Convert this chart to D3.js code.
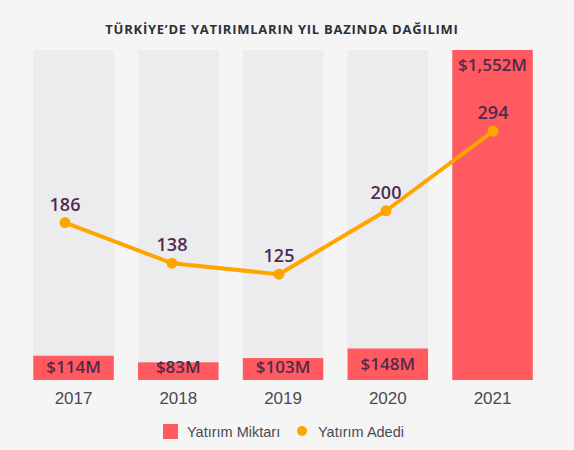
<!DOCTYPE html>
<html>
<head>
<meta charset="utf-8">
<script src="https://cdn.jsdelivr.net/npm/d3@7"></script>
<style>
  body { margin: 0; background: #f5f5f5; }
  svg { display: block; }
</style>
</head>
<body>
<svg id="chart"></svg>
<script>
// Data
const years = ["2017", "2018", "2019", "2020", "2021"];
const amounts = [114, 83, 103, 148, 1552];        // Yatırım Miktarı ($M)
const counts = [186, 138, 125, 200, 294];          // Yatırım Adedi
const amountLabels = ["$114M", "$83M", "$103M", "$148M", "$1,552M"];

const width = 574, height = 450;
const plotTop = 50, plotBottom = 380;

const svg = d3.select("#chart")
    .attr("width", width)
    .attr("height", height);

svg.append("rect")
    .attr("width", width)
    .attr("height", height)
    .attr("fill", "#f5f5f5");

// Title
svg.append("text")
    .attr("x", 282)
    .attr("y", 34)
    .attr("text-anchor", "middle")
    .style("font-family", "'Open Sans', sans-serif")
    .style("font-weight", "700")
    .style("font-size", "13px")
    .style("letter-spacing", "0.75px")
    .style("fill", "#2d2f3a")
    .text("TÜRKİYE’DE YATIRIMLARIN YIL BAZINDA DAĞILIMI");

// Scales
const xBar = d3.scaleBand()
    .domain(years)
    .range([33.3, 532.8])
    .paddingInner(0.2315)
    .paddingOuter(0);

const yBar = d3.scaleLinear()
    .domain([0, d3.max(amounts)])
    .range([plotBottom, plotTop]);

const xLine = d3.scalePoint()
    .domain(years)
    .range([65, 493]);

const yLine = d3.scaleLinear()
    .domain([0, 390])
    .range([plotBottom, plotTop]);

// Background bars
svg.selectAll(".bg-bar")
    .data(years)
    .enter()
    .append("rect")
    .attr("class", "bg-bar")
    .attr("x", d => xBar(d))
    .attr("y", plotTop)
    .attr("width", xBar.bandwidth())
    .attr("height", plotBottom - plotTop)
    .attr("fill", "#ececee");

// Amount bars
svg.selectAll(".amount-bar")
    .data(amounts)
    .enter()
    .append("rect")
    .attr("class", "amount-bar")
    .attr("x", (d, i) => xBar(years[i]))
    .attr("y", d => yBar(d))
    .attr("width", xBar.bandwidth())
    .attr("height", d => plotBottom - yBar(d))
    .attr("fill", "#ff5a5f");

// Amount labels
svg.selectAll(".amount-label")
    .data(amounts)
    .enter()
    .append("text")
    .attr("class", "amount-label")
    .attr("x", (d, i) => xBar(years[i]) + xBar.bandwidth() / 2)
    .attr("y", d => Math.min(yBar(d) + 21, 373))
    .attr("text-anchor", "middle")
    .style("font-family", "'Open Sans', sans-serif")
    .style("font-weight", "600")
    .style("font-size", "17px")
    .style("fill", "#532a4d")
    .text((d, i) => amountLabels[i]);

// Count line
const line = d3.line()
    .x((d, i) => xLine(years[i]))
    .y(d => yLine(d));

svg.append("path")
    .datum(counts)
    .attr("d", line)
    .attr("fill", "none")
    .attr("stroke", "#ffa500")
    .attr("stroke-width", 4)
    .attr("stroke-linejoin", "round");

svg.selectAll(".count-dot")
    .data(counts)
    .enter()
    .append("circle")
    .attr("class", "count-dot")
    .attr("cx", (d, i) => xLine(years[i]))
    .attr("cy", d => yLine(d))
    .attr("r", 5.5)
    .attr("fill", "#ffa500");

svg.selectAll(".count-label")
    .data(counts)
    .enter()
    .append("text")
    .attr("class", "count-label")
    .attr("x", (d, i) => xLine(years[i]))
    .attr("y", d => yLine(d) - 12)
    .attr("text-anchor", "middle")
    .style("font-family", "'Open Sans', sans-serif")
    .style("font-weight", "600")
    .style("font-size", "18px")
    .style("fill", "#532a4d")
    .text(d => d);

// X axis labels
svg.append("g")
    .attr("transform", `translate(0, ${plotBottom})`)
    .call(d3.axisBottom(xBar).tickSize(0).tickPadding(12))
    .call(g => g.select(".domain").remove())
    .selectAll("text")
    .style("font-family", "'Liberation Sans', Arial, sans-serif")
    .style("font-size", "17px")
    .style("fill", "#4a4a55");

// Legend
const legend = svg.append("g")
    .style("font-family", "'Liberation Sans', Arial, sans-serif")
    .style("font-size", "14.5px")
    .style("fill", "#4a4a55");

legend.append("rect")
    .attr("x", 163)
    .attr("y", 424)
    .attr("width", 15)
    .attr("height", 15)
    .attr("fill", "#ff5a5f");

legend.append("text")
    .attr("x", 187)
    .attr("y", 437)
    .text("Yatırım Miktarı");

legend.append("circle")
    .attr("cx", 302)
    .attr("cy", 431)
    .attr("r", 5)
    .attr("fill", "#ffa500");

legend.append("text")
    .attr("x", 318)
    .attr("y", 437)
    .text("Yatırım Adedi");
</script>
</body>
</html>
